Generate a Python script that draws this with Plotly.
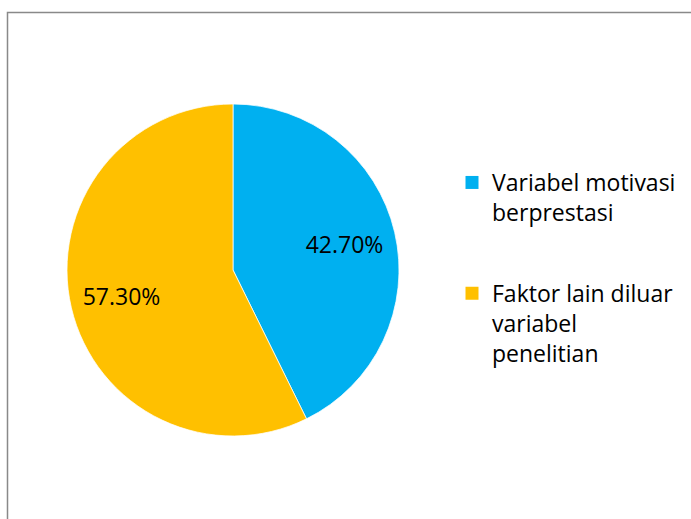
import plotly.graph_objects as go

labels = ["Variabel motivasi<br>berprestasi", "Faktor lain diluar<br>variabel<br>penelitian"]
values = [42.7, 57.3]
text_labels = ["42.70%", "57.30%"]
colors = ["#00B0F0", "#FFC000"]

W, H = 691, 519
FONT = "Open Sans"
dom = dict(x=[67 / W, 399 / W], y=[1 - 436 / H, 1 - 104 / H])

fig = go.Figure()
# full disc
fig.add_trace(go.Pie(
    labels=labels, values=values, sort=False, direction="clockwise", rotation=0,
    marker=dict(colors=colors, line=dict(color="white", width=0.75)),
    textinfo="none", domain=dom, hoverinfo="skip", showlegend=False,
))
# transparent ring carrying the percentage labels (places them further out)
fig.add_trace(go.Pie(
    labels=labels, values=values, text=text_labels, textinfo="text",
    textposition="inside", insidetextorientation="horizontal",
    sort=False, direction="clockwise", rotation=0, hole=0.38,
    marker=dict(colors=["rgba(0,0,0,0)"] * len(values), line=dict(width=0)),
    textfont=dict(family=FONT, size=23, color="#000000"),
    domain=dom, hoverinfo="skip", showlegend=False,
))
# legend entries
for i, (lab, col) in enumerate(zip(labels, colors)):
    fig.add_trace(go.Scatter(
        x=[None], y=[None], mode="markers", name=lab, legendgroup=f"g{i}",
        marker=dict(symbol="square", size=13, color=col, line=dict(width=0)),
    ))

fig.update_layout(
    width=W, height=H,
    margin=dict(l=0, r=0, t=0, b=0),
    paper_bgcolor="white",
    plot_bgcolor="white",
    xaxis=dict(visible=False), yaxis=dict(visible=False),
    showlegend=True,
    legend=dict(
        x=452 / W, y=1 - 161 / H, xanchor="left", yanchor="top",
        font=dict(family=FONT, size=23, color="#000000"),
        valign="top", tracegroupgap=48,
        itemwidth=30,
        bgcolor="rgba(0,0,0,0)",
    ),
    shapes=[dict(type="rect", xref="paper", yref="paper",
                 x0=7.5 / W, x1=1.02, y0=-0.02, y1=1 - 12.5 / H,
                 line=dict(color="#898989", width=1.5), fillcolor="rgba(0,0,0,0)")],
)

fig.write_html("out.html", config={"displayModeBar": False},
               post_script="document.body.style.margin='0';")
